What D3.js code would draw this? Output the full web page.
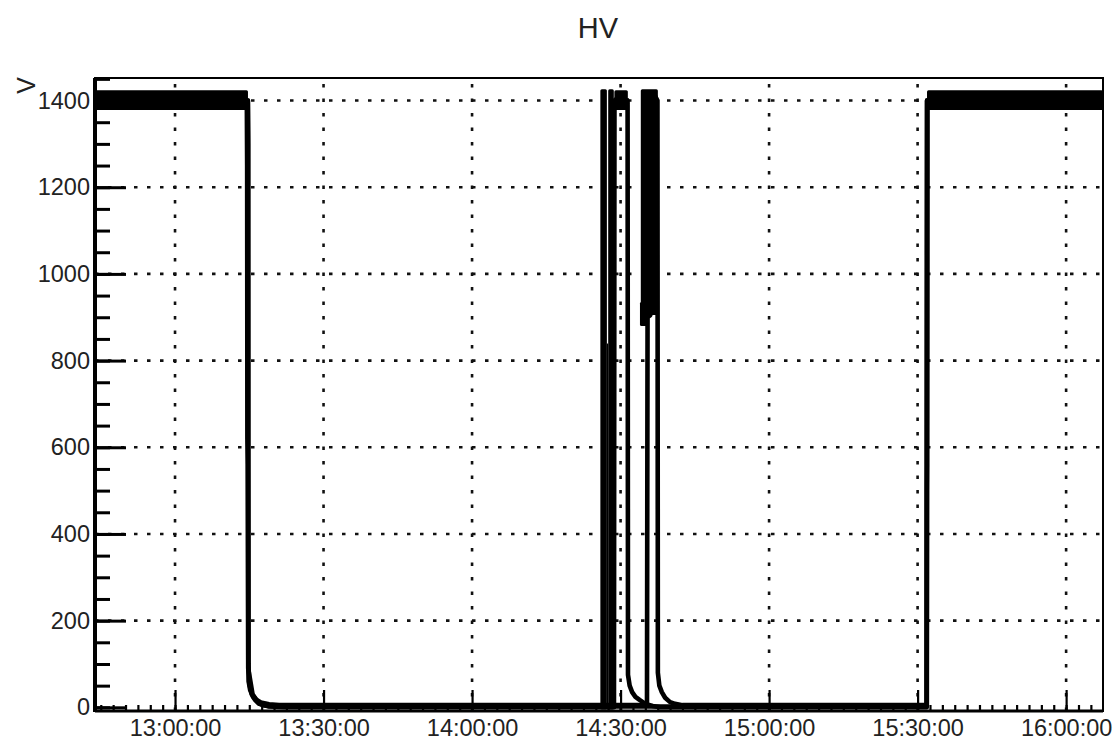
<!DOCTYPE html>
<html>
<head>
<meta charset="utf-8">
<script src="https://cdn.jsdelivr.net/npm/d3@7"></script>
<style>
  html, body { margin: 0; padding: 0; background: #fff; }
  svg { display: block; }
  text { font-family: "Liberation Sans", Arial, Helvetica, sans-serif; fill: #222; }
</style>
</head>
<body>
<svg id="chart" width="1113" height="744"></svg>
<script>
// ---------------- data ----------------
const chartTitle = "HV";
const yAxisTitle = "V";
const xDomain = ["12:43:50", "16:07:27"];
const yDomain = [-8.5, 1452];
const xTickLabels = ["13:00:00", "13:30:00", "14:00:00", "14:30:00", "15:00:00", "15:30:00", "16:00:00"];
const yTickValues = [0, 200, 400, 600, 800, 1000, 1200, 1400];

// channel 1
const ch1Times = ["12:43:50","13:14:42","13:14:44","13:14:46","13:14:48","13:14:52","13:15:10","13:15:45","13:16:15","13:16:47","13:17:45","13:18:50","13:20:30","13:22:00",
  "14:28:40","14:28:46","14:29:50","14:30:40","14:31:25","14:31:30","14:31:50","14:32:20","14:33:00","14:33:50","14:35:00","14:36:30","14:38:00",
  "15:31:50","15:31:54","16:07:27"];
const ch1Values = [1400,1400,1320,600,110,60,40,24,16,10,5,3,1,0,
  0,1400,1410,1395,1400,75,50,35,24,17,8,3,0,
  0,1400,1400];

// channel 2
const ch2Times = ["12:43:50","13:14:43","13:14:47","13:14:49","13:15:00","13:15:30","13:16:20","13:17:20","13:19:00","13:21:00",
  "14:35:20","14:35:27","14:36:00","14:36:10","14:37:00","14:37:27","14:37:32","14:37:50","14:38:20","14:39:00","14:40:00","14:41:00","14:42:30",
  "15:31:52","15:31:56","16:07:27"];
const ch2Values = [1400,1400,1300,100,55,30,18,11,7,5,
  5,900,905,1400,1410,1400,80,50,35,22,12,8,5,
  5,1400,1400];

// channel 3
const ch3Times = ["12:43:50","13:14:30","13:14:34","13:14:37","13:14:41","13:14:47","13:15:40","13:17:00","13:19:00",
  "15:31:50","15:31:52","15:31:54","15:31:57","16:07:27"];
const ch3Values = [1400,1400,1250,620,560,90,30,8,2,
  2,500,560,1400,1400];

// noise envelopes (densely sampled readings drawn as filled bands)
const bandStart = ["12:43:50","14:25:55","14:27:30","14:27:14","14:28:45","14:34:05","14:33:55","15:31:54"];
const bandEnd   = ["13:14:44","14:27:14","14:28:38","14:27:30","14:31:28","14:37:32","14:35:30","16:07:27"];
const bandLow   = [1378, -5, -5, -5, 1378, 905, 880, 1378];
const bandHigh  = [1424, 1426, 1426, 840, 1424, 1426, 935, 1424];

// ---------------- drawing ----------------
const parse = d3.utcParse("%H:%M:%S");
const fmt = d3.utcFormat("%H:%M:%S");
const svg = d3.select("#chart");
const L = 95, R = 1103, T = 78, B = 711;

const x = d3.scaleUtc().domain(xDomain.map(parse)).range([L, R]);
const y = d3.scaleLinear().domain(yDomain).range([B, T]);

svg.append("defs").append("clipPath").attr("id", "clip")
  .append("rect").attr("x", L).attr("y", T).attr("width", R - L).attr("height", B - T);

// grid
const grid = svg.append("g").attr("stroke", "#111").attr("stroke-width", 2.6);
grid.selectAll("line.gx").data(xTickLabels.map(parse)).join("line")
  .attr("x1", d => x(d)).attr("x2", d => x(d)).attr("y1", B).attr("y2", T)
  .attr("stroke-dasharray", "3.5 11");
grid.selectAll("line.gy").data(yTickValues.filter(v => v > 0)).join("line")
  .attr("x1", L).attr("x2", R).attr("y1", d => y(d)).attr("y2", d => y(d))
  .attr("stroke-dasharray", "3.5 9.5");

// data
const plot = svg.append("g").attr("clip-path", "url(#clip)");
plot.selectAll("rect.band").data(bandStart.map((s, i) => ({s: parse(s), e: parse(bandEnd[i]), lo: bandLow[i], hi: bandHigh[i]})))
  .join("rect").attr("class", "band")
  .attr("x", d => x(d.s)).attr("width", d => x(d.e) - x(d.s))
  .attr("y", d => y(d.hi)).attr("height", d => y(d.lo) - y(d.hi))
  .attr("rx", 1.5)
  .attr("fill", "#000");

const line = d3.line().x(d => x(d[0])).y(d => y(d[1]));
const channels = [[ch1Times, ch1Values], [ch2Times, ch2Values], [ch3Times, ch3Values]];
channels.forEach(([ts, vs]) => {
  plot.append("path")
    .datum(ts.map((t, i) => [parse(t), vs[i]]))
    .attr("d", line)
    .attr("fill", "none").attr("stroke", "#000").attr("stroke-width", 4.6)
    .attr("stroke-linejoin", "round");
});

// axes
const fontSize = 23.5;
const minorXValues = [];
{
  const t0 = parse("12:45:00");
  for (let t = +t0; t <= +x.domain()[1]; t += 150000) minorXValues.push(new Date(t));
}
svg.append("g").attr("transform", `translate(0,${B})`)
  .call(d3.axisBottom(x).tickValues(minorXValues).tickSizeInner(-6).tickSizeOuter(0).tickFormat(""))
  .call(g => g.select(".domain").remove())
  .call(g => g.selectAll("line").attr("stroke", "#000").attr("stroke-width", 2.2));
svg.append("g").attr("transform", `translate(0,${B})`)
  .call(d3.axisBottom(x).tickValues(xTickLabels.map(parse)).tickFormat(fmt).tickSizeInner(-21).tickSizeOuter(0).tickPadding(8))
  .call(g => g.select(".domain").remove())
  .call(g => g.selectAll("line").attr("stroke", "#000").attr("stroke-width", 2.2))
  .call(g => g.selectAll("text").attr("font-size", fontSize).attr("font-family", null).attr("fill", "#222"));

const minorY = d3.range(0, 1451, 50);
svg.append("g").attr("transform", `translate(${L},0)`)
  .call(d3.axisLeft(y).tickValues(minorY).tickSizeInner(-15).tickSizeOuter(0).tickFormat(""))
  .call(g => g.select(".domain").remove())
  .call(g => g.selectAll("line").attr("stroke", "#000").attr("stroke-width", 3));
svg.append("g").attr("transform", `translate(${L},0)`)
  .call(d3.axisLeft(y).tickValues(yTickValues).tickFormat(d3.format("d")).tickSizeInner(-31).tickSizeOuter(0).tickPadding(5))
  .call(g => g.select(".domain").remove())
  .call(g => g.selectAll("line").attr("stroke", "#000").attr("stroke-width", 3))
  .call(g => g.selectAll("text").attr("font-size", fontSize).attr("font-family", null).attr("fill", "#222"));

// frame
svg.append("rect").attr("x", L).attr("y", T).attr("width", R - L).attr("height", B - T)
  .attr("fill", "none").attr("stroke", "#000").attr("stroke-width", 2);
svg.append("line").attr("x1", L).attr("x2", L).attr("y1", T).attr("y2", B + 1)
  .attr("stroke", "#000").attr("stroke-width", 4);
svg.append("line").attr("x1", L).attr("x2", R).attr("y1", B).attr("y2", B)
  .attr("stroke", "#000").attr("stroke-width", 3);

// titles
svg.append("text").attr("x", 598).attr("y", 38).attr("text-anchor", "middle")
  .attr("font-size", 29).text(chartTitle);
svg.append("text").attr("transform", `translate(35,${T - 1}) rotate(-90)`)
  .attr("text-anchor", "end").attr("font-size", 25).text(yAxisTitle);
</script>
</body>
</html>
